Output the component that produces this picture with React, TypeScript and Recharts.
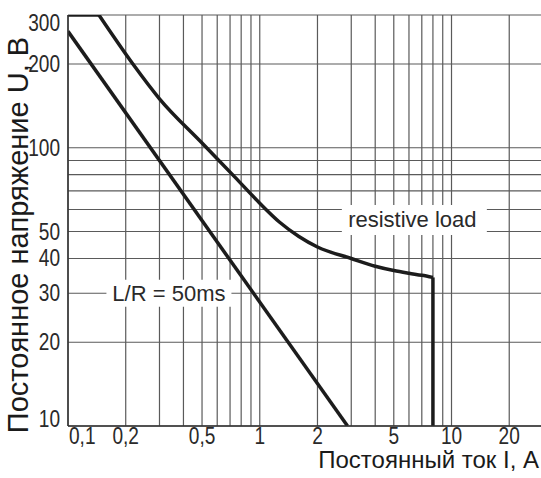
import React from 'react';
import {
  LineChart,
  Line,
  XAxis,
  YAxis,
  CartesianGrid,
  ReferenceDot,
} from 'recharts';

// Постоянный ток I, А / Постоянное напряжение U, В
const resistiveI = [0.1, 0.145, 0.218, 0.3, 0.5, 0.74, 1, 1.27, 1.6, 2, 3, 4, 5, 6, 7, 8, 8];
const resistiveU = [300, 300, 200, 150, 104, 78.6, 63.2, 54, 48, 44, 40, 37.5, 36.2, 35.4, 34.8, 34.2, 10];

const inductiveI = [0.1, 2.87];
const inductiveU = [262, 10];

const xTicks = [0.1, 0.2, 0.3, 0.4, 0.5, 0.6, 0.7, 0.8, 0.9, 1, 2, 3, 4, 5, 6, 7, 8, 9, 10, 20, 30];
const xTickLabels: Record<number, string> = {
  0.1: '0,1',
  0.2: '0,2',
  0.5: '0,5',
  1: '1',
  2: '2',
  5: '5',
  10: '10',
  20: '20',
};

const yTicks = [10, 20, 30, 40, 50, 60, 70, 80, 90, 100, 200, 300];
const yTickLabels: Record<number, string> = {
  10: '10',
  20: '20',
  30: '30',
  40: '40',
  50: '50',
  100: '100',
  200: '200',
  300: '300',
};

const rows = resistiveI.map((i, k) => ({ i, u: resistiveU[k] }));
const last = rows.length - 1;
// flat top, the smooth bend, and the vertical cut-off drawn as separate pieces
const resistiveTop = rows.slice(0, 2);
const resistiveBend = rows.slice(1, last);
const resistiveDrop = rows.slice(last - 1);
const inductiveData = inductiveI.map((i, k) => ({ i, u: inductiveU[k] }));

const SANS = '"Liberation Sans", Arial, sans-serif';
const INK = '#1c1c1c';
const GRID = '#5a5a5a';
const SQUEEZE = 0.83;

const XTick = (props: any) => {
  const { x, y, payload } = props;
  const label = xTickLabels[payload.value];
  if (!label) return <g />;
  const first = payload.value === 0.1;
  return (
    <text
      transform={`translate(${first ? x + 1 : x},${y + 10}) scale(${SQUEEZE},1)`}
      textAnchor={first ? 'start' : 'middle'}
      fontFamily={SANS}
      fontSize={23}
      fill="#2a2a2a"
    >
      {label}
    </text>
  );
};

const YTick = (props: any) => {
  const { x, y, payload } = props;
  const label = yTickLabels[payload.value];
  if (!label) return <g />;
  let dy = 8;
  if (payload.value === 300) dy = 16;
  if (payload.value === 10) dy = 1;
  return (
    <text
      transform={`translate(${x},${y + dy}) scale(${SQUEEZE},1)`}
      textAnchor="end"
      fontFamily={SANS}
      fontSize={23}
      fill="#2a2a2a"
    >
      {label}
    </text>
  );
};

const boxLabel = (text: string, w: number, h: number, shift: number) => (p: any) => {
  const { cx, cy } = p;
  return (
    <g>
      <rect x={cx - w / 2} y={cy - h / 2} width={w} height={h} fill="#fff" />
      <text
        x={cx + shift}
        y={cy}
        dy={7.5}
        textAnchor="middle"
        fontFamily={SANS}
        fontSize={22}
        fill="#2a2a2a"
      >
        {text}
      </text>
    </g>
  );
};

export default function App() {
  return (
    <div
      style={{
        position: 'absolute',
        left: 0,
        top: 0,
        width: 541,
        height: 478,
        overflow: 'hidden',
        background: '#fff',
      }}
    >
      <LineChart
        width={543}
        height={478}
        margin={{ top: 15, right: 0, left: 0, bottom: 0 }}
      >
        <CartesianGrid stroke={GRID} strokeWidth={1.2} />

        <XAxis
          type="number"
          dataKey="i"
          scale="log"
          domain={[0.1, 30]}
          ticks={xTicks}
          interval={0}
          allowDataOverflow
          height={52}
          tickLine={false}
          axisLine={{ stroke: '#333', strokeWidth: 1.5 }}
          tick={<XTick />}
          label={{
            content: () => (
              <text
                x={539}
                y={468}
                textAnchor="end"
                fontFamily={SANS}
                fontSize={24}
                fill="#1a1a1a"
              >
                Постоянный ток I, А
              </text>
            ),
          }}
        />

        <YAxis
          type="number"
          dataKey="u"
          scale="log"
          domain={[10, 300]}
          ticks={yTicks}
          interval={0}
          allowDataOverflow
          width={68}
          tickLine={false}
          axisLine={{ stroke: '#333', strokeWidth: 1.5 }}
          tick={<YTick />}
          label={{
            content: () => (
              <text
                x={0}
                y={0}
                transform="translate(28,235) rotate(-90)"
                textAnchor="middle"
                fontFamily={SANS}
                fontSize={29}
                fill="#1a1a1a"
              >
                Постоянное напряжение U, В
              </text>
            ),
          }}
        />

        <ReferenceDot
          x={6.4}
          y={55}
          r={0}
          ifOverflow="visible"
          shape={boxLabel('resistive load', 145, 30, -2)}
        />
        <ReferenceDot
          x={0.336}
          y={30}
          r={0}
          ifOverflow="visible"
          shape={boxLabel('L/R = 50ms', 125, 27, 0)}
        />

        <Line
          data={resistiveTop}
          dataKey="u"
          type="linear"
          stroke={INK}
          strokeWidth={3.5}
          dot={false}
          isAnimationActive={false}
        />
        <Line
          data={resistiveBend}
          dataKey="u"
          type="monotone"
          stroke={INK}
          strokeWidth={3.5}
          dot={false}
          isAnimationActive={false}
        />
        <Line
          data={resistiveDrop}
          dataKey="u"
          type="linear"
          stroke={INK}
          strokeWidth={3.5}
          dot={false}
          isAnimationActive={false}
        />
        <Line
          data={inductiveData}
          dataKey="u"
          type="linear"
          stroke={INK}
          strokeWidth={3.5}
          dot={false}
          isAnimationActive={false}
        />
      </LineChart>
    </div>
  );
}
